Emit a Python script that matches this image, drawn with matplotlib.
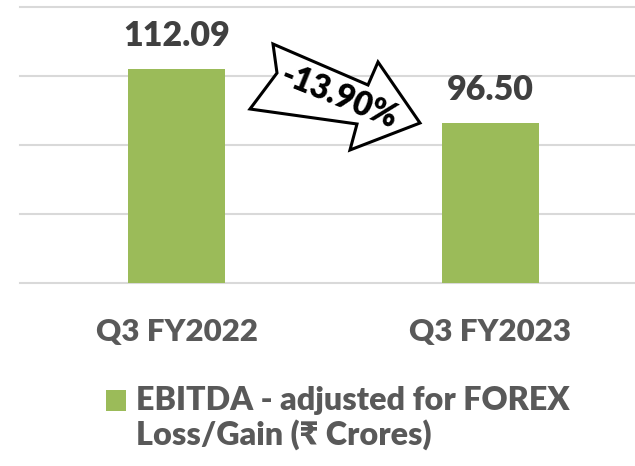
import matplotlib
matplotlib.use("Agg")
import matplotlib.pyplot as plt
from matplotlib.patches import Polygon, Rectangle

# data
categories = ["Q3 FY2022", "Q3 FY2023"]
values = [112.09, 96.50]
value_labels = ["112.09", "96.50"]
series_name = "EBITDA - adjusted for FOREX\nLoss/Gain (₹ Crores)"
change_label = "-13.90%"
y_ticks = [50, 70, 90, 110, 130]

BAR_COLOR = "#9BBB59"
GRID_COLOR = "#D9D9D9"
FONT = ["Lato", "Noto Sans", "DejaVu Sans"]
WEIGHT = 800

W, H = 635, 466
fig = plt.figure(figsize=(W / 100, H / 100), dpi=100)
ax = fig.add_axes([20 / W, (H - 283) / H, 627 / W, 276 / H])

x = list(range(len(categories)))
ax.bar(x, values, width=0.31, color=BAR_COLOR, zorder=3)

for xi, lab in zip(x, value_labels):
    ax.annotate(lab, (xi, values[xi]), xytext=(0, 16.5), textcoords="offset points",
                ha="center", va="baseline", fontsize=24.5, fontweight=WEIGHT,
                color="#404040", family=FONT)

ax.set_xlim(-0.5, 1.5)
ax.set_ylim(y_ticks[0], y_ticks[-1])
ax.set_yticks(y_ticks)
ax.set_xticks(x)
ax.set_xticklabels(categories, fontsize=22.5, fontweight=WEIGHT, color="#595959", family=FONT)
ax.tick_params(axis="x", length=0, pad=25)
ax.tick_params(axis="y", length=0, labelleft=False)
for s in ax.spines.values():
    s.set_visible(False)
ax.yaxis.grid(True, color=GRID_COLOR, linewidth=1.5, zorder=0)
for gl in ax.get_ygridlines():
    gl.set_clip_on(False)


def px(pts):
    return [(a / W, 1 - b / H) for a, b in pts]


# block arrow showing the change
arrow_pts = [(273, 44), (368, 85), (378, 62), (420, 123), (350, 150),
             (357, 124), (250, 109), (277, 73)]
fig.patches.append(Polygon(px(arrow_pts), closed=True, transform=fig.transFigure,
                           facecolor="white", edgecolor="black", linewidth=2.2,
                           joinstyle="miter", zorder=5))
fig.text(339 / W, 1 - 97 / H, change_label, rotation=-22, rotation_mode="anchor",
         ha="center", va="center", fontsize=23.5, fontweight=WEIGHT, color="black",
         family=FONT, zorder=6)

# legend
fig.patches.append(Rectangle((106 / W, 1 - 411 / H), 20 / W, 21 / H, transform=fig.transFigure,
                             facecolor=BAR_COLOR, edgecolor="none"))
fig.text(136 / W, 1 - 386 / H, series_name, ha="left", va="top", fontsize=23.2,
         fontweight=WEIGHT, color="#595959", family=FONT, linespacing=1.15)

fig.savefig("out.png", dpi=100)
